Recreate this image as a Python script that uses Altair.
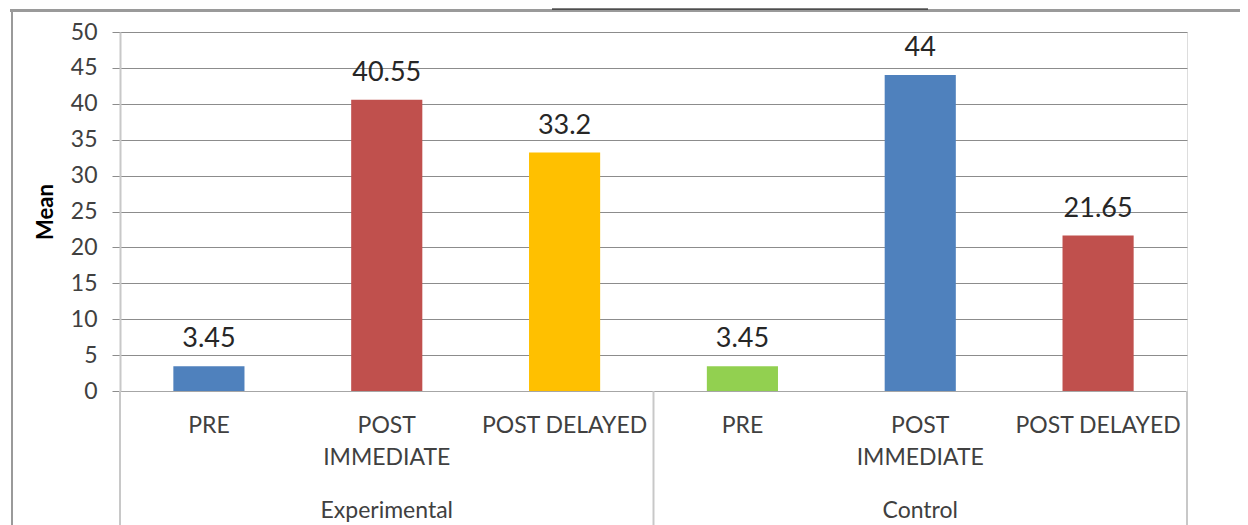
import altair as alt
import pandas as pd

groups = ["Experimental", "Experimental", "Experimental", "Control", "Control", "Control"]
conditions = ["PRE", "POST IMMEDIATE", "POST DELAYED", "PRE", "POST IMMEDIATE", "POST DELAYED"]
cond_labels = ["PRE", "POST\nIMMEDIATE", "POST DELAYED", "PRE", "POST\nIMMEDIATE", "POST DELAYED"]
means = [3.45, 40.55, 33.2, 3.45, 44, 21.65]
value_labels = ["3.45", "40.55", "33.2", "3.45", "44", "21.65"]
colors = ["#4F81BD", "#C0504D", "#FFC000", "#92D050", "#4F81BD", "#C0504D"]
y_ticks = [0, 5, 10, 15, 20, 25, 30, 35, 40, 45, 50]

keys = [f"{g}|{c}" for g, c in zip(groups, conditions)]
df = pd.DataFrame({"key": keys, "group": groups, "cond": cond_labels,
                   "mean": means, "label": value_labels, "color": colors})

FONT = "Lato"
W, H = 1067, 359
GRID = "#8c8c8c"
LIGHT = "#c8c8c8"

xscale = alt.Scale(domain=keys, paddingInner=0, paddingOuter=0)
yscale = alt.Scale(domain=[0, 50], nice=False)

xaxis = alt.Axis(labels=False, ticks=False, title=None, domainColor="#a6a6a6", grid=False)
yaxis = alt.Axis(values=y_ticks, tickCount=11, grid=True, gridColor=GRID, gridWidth=1,
                 tickSize=8, tickColor=GRID, domainColor=LIGHT, domainWidth=2,
                 labelFont=FONT, labelFontSize=23, labelColor="#404040", labelPadding=15,
                 labelOverlap=False,
                 title="Mean", titleFont=FONT, titleFontSize=22, titleFontWeight="bold",
                 titleColor="#000000", titleX=-75, titleY=H / 2, titleBaseline="middle")

base = alt.Chart(df)

bars = base.mark_bar(width=alt.RelativeBandSize(0.4)).encode(
    x=alt.X("key:N", scale=xscale, sort=keys, axis=xaxis),
    y=alt.Y("mean:Q", scale=yscale, axis=yaxis),
    color=alt.Color("color:N", scale=None),
)

vals = base.mark_text(dy=-19, baseline="alphabetic", font=FONT, fontSize=27, color="#262626").encode(
    x=alt.X("key:N", scale=xscale, sort=keys, axis=xaxis),
    y=alt.Y("mean:Q", scale=yscale, axis=yaxis),
    text="label:N",
)

cats = base.mark_text(baseline="alphabetic", font=FONT, fontSize=23, color="#404040",
                      lineBreak="\n", lineHeight=32).encode(
    x=alt.X("key:N", scale=xscale, sort=keys, axis=xaxis),
    y=alt.value(401),
    text="cond:N",
)

grp_df = df[df["cond"].str.startswith("POST\n")]
grps = alt.Chart(grp_df).mark_text(baseline="alphabetic", font=FONT, fontSize=23, color="#404040").encode(
    x=alt.X("key:N", scale=xscale, sort=keys, axis=xaxis),
    y=alt.value(486),
    text="group:N",
)

sep_left = alt.Chart(df[df["cond"] == "PRE"]).mark_rule(color=LIGHT, strokeWidth=2).encode(
    x=alt.X("key:N", scale=xscale, sort=keys, bandPosition=0, axis=xaxis),
    y=alt.value(H), y2=alt.value(493),
)
sep_right = alt.Chart(df.iloc[[5]]).mark_rule(color=LIGHT, strokeWidth=2).encode(
    x=alt.X("key:N", scale=xscale, sort=keys, bandPosition=1, axis=xaxis),
    y=alt.value(H), y2=alt.value(493),
)

dummy = alt.Chart(pd.DataFrame({"a": [0]}))
frame_top = dummy.mark_rule(color="#9a9a9a", strokeWidth=3).encode(
    x=alt.value(-110), x2=alt.value(1125), y=alt.value(-21.5))
frame_left = dummy.mark_rule(color="#9a9a9a", strokeWidth=2).encode(
    x=alt.value(-108), y=alt.value(-21.5), y2=alt.value(493))
frame_black = dummy.mark_rule(color="#000000", strokeWidth=1).encode(
    x=alt.value(432), x2=alt.value(808), y=alt.value(-23))

chart = alt.layer(bars, vals, cats, grps, sep_left, sep_right, frame_top, frame_left, frame_black).properties(
    width=W, height=H,
    padding={"left": 112, "top": 24, "right": 53, "bottom": 134},
    autosize="none",
).configure_view(stroke=None).configure(background="white")

chart.save("out.html", embed_options={"renderer": "svg", "actions": False})
